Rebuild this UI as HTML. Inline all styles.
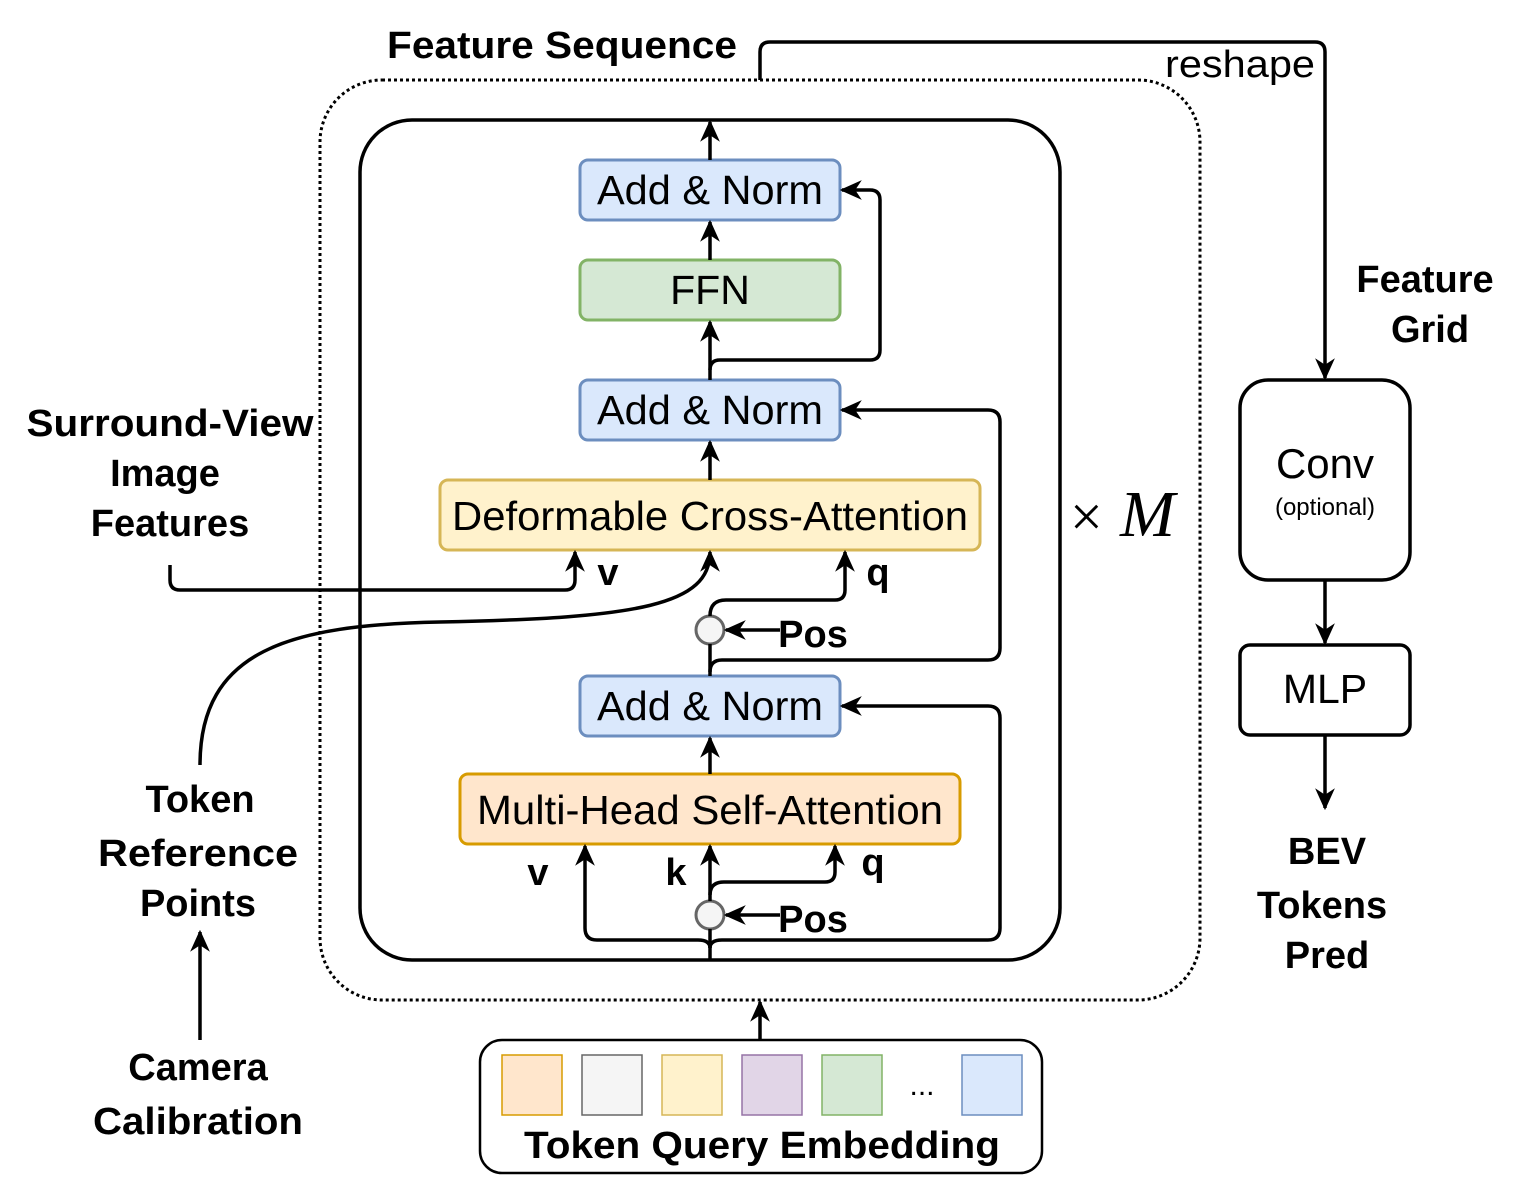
<!DOCTYPE html>
<html><head><meta charset="utf-8"><style>
html,body{margin:0;padding:0;background:#fff;}
svg{display:block;}
.h{font-family:"Liberation Sans",sans-serif;font-size:38px;fill:#000;font-weight:bold;}
.b{font-family:"Liberation Sans",sans-serif;font-size:41px;fill:#000;}
</style></head><body>
<svg width="1540" height="1180" viewBox="0 0 1540 1180" xmlns="http://www.w3.org/2000/svg">
<defs>
<marker id="a" viewBox="0 0 20 20" refX="18" refY="10" markerWidth="22" markerHeight="22" markerUnits="userSpaceOnUse" orient="auto">
<path d="M0,1 L20,10 L0,19 L6,10 Z" fill="#000"/>
</marker>
</defs>
<g fill="none" stroke="#000" stroke-width="3.5">
<rect x="320" y="80" width="880" height="920" rx="62" stroke-dasharray="3,3" stroke-width="3"/>
<rect x="360" y="120" width="700" height="840" rx="52"/>
</g>
<g stroke-width="3">
<rect x="580" y="160" width="260" height="60" rx="8" fill="#dae8fc" stroke="#6c8ebf"/>
<rect x="580" y="260" width="260" height="60" rx="8" fill="#d5e8d4" stroke="#82b366"/>
<rect x="580" y="380" width="260" height="60" rx="8" fill="#dae8fc" stroke="#6c8ebf"/>
<rect x="440" y="480" width="540" height="70" rx="8" fill="#fff2cc" stroke="#d6b656"/>
<rect x="580" y="676" width="260" height="60" rx="8" fill="#dae8fc" stroke="#6c8ebf"/>
<rect x="460" y="774" width="500" height="70" rx="8" fill="#ffe6cc" stroke="#d79b00"/>
<circle cx="710" cy="630" r="14" fill="#f5f5f5" stroke="#666"/>
<circle cx="710" cy="915" r="14" fill="#f5f5f5" stroke="#666"/>
<rect x="1240" y="380" width="170" height="200" rx="28" fill="#fff" stroke="#000" stroke-width="3.5"/>
<rect x="1240" y="645" width="170" height="90" rx="10" fill="#fff" stroke="#000" stroke-width="3.5"/>
<rect x="480" y="1040" width="562" height="133" rx="22" fill="#fff" stroke="#000" stroke-width="2.5"/>
<rect x="502" y="1055" width="60" height="60" fill="#ffe6cc" stroke="#d79b00" stroke-width="1.5"/>
<rect x="582" y="1055" width="60" height="60" fill="#f5f5f5" stroke="#666" stroke-width="1.5"/>
<rect x="662" y="1055" width="60" height="60" fill="#fff2cc" stroke="#d6b656" stroke-width="1.5"/>
<rect x="742" y="1055" width="60" height="60" fill="#e1d5e7" stroke="#9673a6" stroke-width="1.5"/>
<rect x="822" y="1055" width="60" height="60" fill="#d5e8d4" stroke="#82b366" stroke-width="1.5"/>
<rect x="962" y="1055" width="60" height="60" fill="#dae8fc" stroke="#6c8ebf" stroke-width="1.5"/>
</g>
<g fill="none" stroke="#000" stroke-width="3.5" marker-end="url(#a)">
<path d="M710,160 V122"/>
<path d="M710,260 V222"/>
<path d="M710,380 V322"/>
<path d="M710,370 Q710,360 720,360 H870 Q880,360 880,350 V200 Q880,190 870,190 H842"/>
<path d="M710,480 V442"/>
<path d="M710,676 V644" marker-end="none"/>
<path d="M710,672 Q710,660 722,660 H988 Q1000,660 1000,648 V422 Q1000,410 988,410 H842"/>
<path d="M710,616 Q710,600 726,600 H835 Q845,600 845,590 V552"/>
<path d="M780,630 H726"/>
<path d="M170,565 V580 Q170,590 180,590 H565 Q575,590 575,580 V552"/>
<path d="M200,765 C200,650 290,625 440,622 C640,618 710,605 710,552"/>
<path d="M710,774 V738"/>
<path d="M710,960 V929" marker-end="none"/>
<path d="M710,948 Q710,940 698,940 H597 Q585,940 585,928 V846"/>
<path d="M710,948 Q710,940 722,940 H988 Q1000,940 1000,928 V718 Q1000,706 988,706 H842"/>
<path d="M710,901 V846"/>
<path d="M710,895 Q710,882 724,882 H825 Q835,882 835,872 V846"/>
<path d="M780,915 H726"/>
<path d="M760,1040 V1002"/>
<path d="M200,1040 V932"/>
<path d="M760,80 V52 Q760,42 770,42 H1315 Q1325,42 1325,52 V378"/>
<path d="M1325,580 V643"/>
<path d="M1325,735 V808"/>
</g>
<g class="b" text-anchor="middle">
<text x="710" y="204" textLength="226" lengthAdjust="spacingAndGlyphs">Add &amp; Norm</text>
<text x="710" y="304">FFN</text>
<text x="710" y="424" textLength="226" lengthAdjust="spacingAndGlyphs">Add &amp; Norm</text>
<text x="710" y="530" textLength="516" lengthAdjust="spacingAndGlyphs">Deformable Cross-Attention</text>
<text x="710" y="720" textLength="226" lengthAdjust="spacingAndGlyphs">Add &amp; Norm</text>
<text x="710" y="824" textLength="466" lengthAdjust="spacingAndGlyphs">Multi-Head Self-Attention</text>
<text x="1325" y="478" font-size="42">Conv</text>
<text x="1325" y="515" font-size="24">(optional)</text>
<text x="1325" y="703">MLP</text>
<text x="1240" y="77" font-size="38" textLength="150" lengthAdjust="spacingAndGlyphs">reshape</text>
</g>
<g class="h" text-anchor="middle">
<text x="562" y="58" textLength="350" lengthAdjust="spacingAndGlyphs">Feature Sequence</text>
<text x="170" y="436" textLength="287" lengthAdjust="spacingAndGlyphs">Surround-View</text>
<text x="165" y="486">Image</text>
<text x="170" y="536">Features</text>
<text x="200" y="812">Token</text>
<text x="198" y="866" textLength="200" lengthAdjust="spacingAndGlyphs">Reference</text>
<text x="198" y="916">Points</text>
<text x="198" y="1080">Camera</text>
<text x="198" y="1134" textLength="210" lengthAdjust="spacingAndGlyphs">Calibration</text>
<text x="1425" y="292">Feature</text>
<text x="1430" y="342">Grid</text>
<text x="1327" y="864">BEV</text>
<text x="1322" y="918">Tokens</text>
<text x="1327" y="968">Pred</text>
<text x="762" y="1158" textLength="476" lengthAdjust="spacingAndGlyphs">Token Query Embedding</text>
<text x="922" y="1095" font-size="30" font-weight="normal">...</text>
<text x="813" y="647">Pos</text>
<text x="813" y="932">Pos</text>
<text x="608" y="585">v</text>
<text x="878" y="585">q</text>
<text x="538" y="885">v</text>
<text x="676" y="885">k</text>
<text x="873" y="875">q</text>
</g>
<text x="1070" y="536" font-family="Liberation Serif,serif" font-size="58">×</text>
<text x="1120" y="536" font-family="Liberation Serif,serif" font-style="italic" font-size="66">M</text>
</svg>
</body></html>
